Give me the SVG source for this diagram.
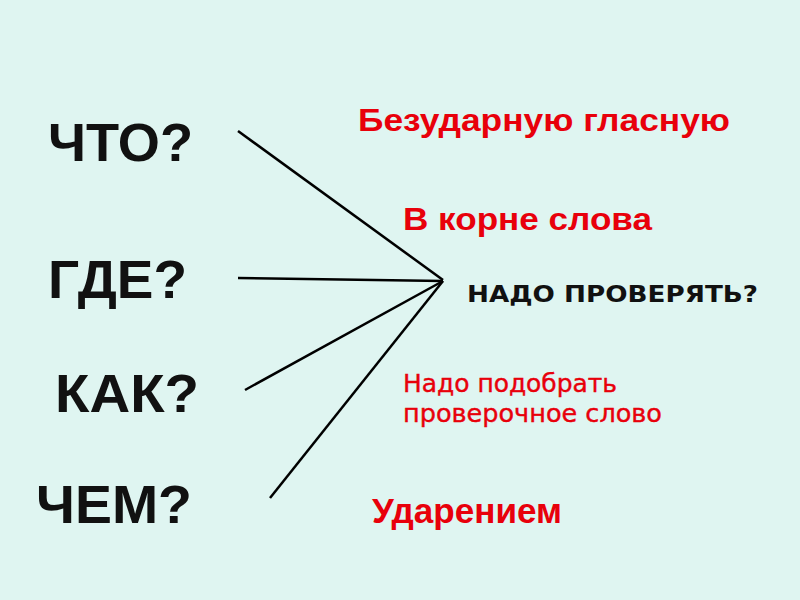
<svg xmlns="http://www.w3.org/2000/svg" width="800" height="600" viewBox="0 0 800 600">
<style>
.q{font-family:"Liberation Sans",Arial,sans-serif;font-weight:bold;font-size:54px;fill:#111}
.r{font-family:"Liberation Sans",Arial,sans-serif;font-weight:bold;fill:#e8000b}
.rn{font-family:"DejaVu Sans","Liberation Sans",sans-serif;fill:#e8000b;font-size:24px;stroke:#e8000b;stroke-width:0.4}
.k{font-family:"DejaVu Sans","Liberation Sans",sans-serif;font-weight:bold;font-size:23px;fill:#111}
.c{stroke:#000;stroke-width:2.5;fill:none;stroke-linecap:butt}
</style>
<rect width="800" height="600" fill="#dff5f1"/>
<g id="connectors">
<line class="c" x1="238" y1="131" x2="443" y2="280"/>
<line class="c" x1="238" y1="278" x2="443" y2="281"/>
<line class="c" x1="245" y1="390" x2="443" y2="281"/>
<line class="c" x1="270" y1="498" x2="443" y2="281"/>
</g>
<g id="q-chto"><text class="q" x="48" y="161" textLength="145" lengthAdjust="spacingAndGlyphs">ЧТО?</text></g>
<g id="q-gde"><text class="q" x="48" y="298" textLength="139" lengthAdjust="spacingAndGlyphs">ГДЕ?</text></g>
<g id="q-kak"><text class="q" x="55" y="412" textLength="144" lengthAdjust="spacingAndGlyphs">КАК?</text></g>
<g id="q-chem"><text class="q" x="36" y="523" textLength="156" lengthAdjust="spacingAndGlyphs">ЧЕМ?</text></g>
<g id="a1"><text class="r" x="358" y="131" font-size="32" textLength="372" lengthAdjust="spacingAndGlyphs">Безударную гласную</text></g>
<g id="a2"><text class="r" x="403" y="230" font-size="32" textLength="249" lengthAdjust="spacingAndGlyphs">В корне слова</text></g>
<g id="center"><text class="k" x="467" y="302" textLength="291" lengthAdjust="spacingAndGlyphs">НАДО ПРОВЕРЯТЬ?</text></g>
<g id="a3"><text class="rn" x="403" y="392" textLength="214" lengthAdjust="spacingAndGlyphs">Надо подобрать</text><text class="rn" x="403" y="422" textLength="259" lengthAdjust="spacingAndGlyphs">проверочное слово</text></g>
<g id="a4"><text class="r" x="372" y="523" font-size="35" textLength="190" lengthAdjust="spacingAndGlyphs">Ударением</text></g>
</svg>
